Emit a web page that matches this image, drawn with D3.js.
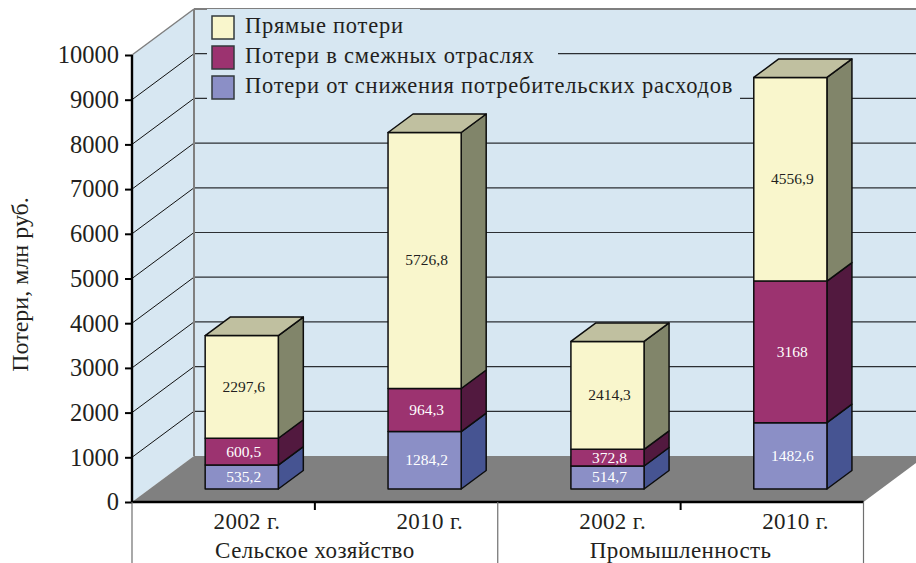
<!DOCTYPE html>
<html><head><meta charset="utf-8">
<script src="https://cdnjs.cloudflare.com/ajax/libs/d3/7.8.5/d3.min.js"></script>
<style>html,body{margin:0;padding:0;background:#fff;overflow:hidden}svg{display:block}text{font-family:"Liberation Serif",serif;fill:#231f20}</style>
</head><body><svg id="c" width="916" height="563"></svg>
<script>
const groups = ["Сельское хозяйство", "Промышленность"];
const years = ["2002 г.", "2010 г.", "2002 г.", "2010 г."];
const consumer = [535.2, 1284.2, 514.7, 1482.6];
const related = [600.5, 964.3, 372.8, 3168];
const direct = [2297.6, 5726.8, 2414.3, 4556.9];
const seriesNames = ["Прямые потери", "Потери в смежных отраслях", "Потери от снижения потребительских расходов"];
const yTicks = [0,1000,2000,3000,4000,5000,6000,7000,8000,9000,10000];
const yTitle = "Потери, млн руб.";

const W=916,H=563;
const svg=d3.select("#c");
const x0=132,x1=863.5,yB=502,yT=55,dX=62,dY=46;
const barDX=25,barDY=18.5,offX=18.3,offY=13;
const y=d3.scaleLinear().domain([0,10000]).range([yB,yT]);
const x=d3.scaleBand().domain(d3.range(4)).range([x0,x1]).paddingInner(0.6).paddingOuter(0.3);
const xFull=d3.scaleBand().domain(d3.range(4)).range([x0,x1]);
const pts=a=>a.map(p=>p.join(",")).join(" ");

// walls
svg.append("polygon").attr("points",pts([[x0,yT],[x0+dX,yT-dY],[x0+dX,yB-dY],[x0,yB]])).attr("fill","#d7e7f2");
svg.append("rect").attr("x",x0+dX).attr("y",yT-dY).attr("width",W-x0-dX).attr("height",yB-yT).attr("fill","#d7e7f2");
// gridlines
yTicks.filter(t=>t>0&&t<10000).forEach(t=>{
  svg.append("line").attr("x1",x0+dX).attr("x2",W).attr("y1",y(t)-dY).attr("y2",y(t)-dY).attr("stroke","#2b2f33").attr("stroke-width",1.2);
  svg.append("line").attr("x1",x0).attr("x2",x0+dX).attr("y1",y(t)).attr("y2",y(t)-dY).attr("stroke","#111").attr("stroke-width",1);
});
svg.append("line").attr("x1",x0).attr("x2",x0+dX).attr("y1",yT).attr("y2",yT-dY).attr("stroke","#7f7f7f").attr("stroke-width",1.5);
svg.append("line").attr("x1",x0+dX).attr("x2",W).attr("y1",yT-dY).attr("y2",yT-dY).attr("stroke","#7f7f7f").attr("stroke-width",2);
svg.append("line").attr("x1",x0+dX).attr("x2",x0+dX).attr("y1",yT-dY).attr("y2",yB-dY).attr("stroke","#7f7f7f").attr("stroke-width",2);
// floor
svg.append("polygon").attr("points",pts([[x0,yB],[x0+dX,yB-dY],[x1+dX,yB-dY],[x1,yB]])).attr("fill","#808080");

// legend
const legTop=[16,46,76], legCol=["#f9f6cc","#9c3370","#8b8fc6"], legEnd=[420,558,740];
seriesNames.forEach((n,i)=>{
  svg.append("rect").attr("x",207).attr("y",legTop[i]-7).attr("width",legEnd[i]-207).attr("height",30).attr("fill","#d7e7f2");
});
seriesNames.forEach((n,i)=>{
  svg.append("rect").attr("x",212).attr("y",legTop[i]).attr("width",22).attr("height",23).attr("fill",legCol[i]).attr("stroke","#333a3d").attr("stroke-width",1.5);
  svg.append("text").attr("x",245).attr("y",legTop[i]+17).attr("font-size",22.5).attr("letter-spacing",0.75).text(n);
});

// bars
const stack=[
 {v:consumer,front:"#8b8fc6",side:"#465492",label:"#fff"},
 {v:related,front:"#9c3370",side:"#52193f",label:"#fff"},
 {v:direct,front:"#f9f6cc",side:"#81856a",top:"#c0c0a0",label:"#231f20"}
];
const fmt=v=>String(v).replace(".",",");
d3.range(4).forEach(i=>{
  let acc=0;
  const bx0=x(i)+offX, bx1=bx0+x.bandwidth();
  stack.forEach(s=>{
    const a=y(acc)-offY, b=y(acc+s.v[i])-offY; acc+=s.v[i];
    const g=svg.append("g").attr("stroke","#0d0d0d").attr("stroke-width",1.5).attr("stroke-linejoin","round");
    g.append("polygon").attr("points",pts([[bx1,a],[bx1+barDX,a-barDY],[bx1+barDX,b-barDY],[bx1,b]])).attr("fill",s.side);
    g.append("rect").attr("x",bx0).attr("y",b).attr("width",bx1-bx0).attr("height",a-b).attr("fill",s.front);
    if(s.top) g.append("polygon").attr("points",pts([[bx0,b],[bx0+barDX,b-barDY],[bx1+barDX,b-barDY],[bx1,b]])).attr("fill",s.top);
    svg.append("text").attr("x",(bx0+bx1)/2+2).attr("y",(a+b)/2+5).attr("text-anchor","middle").attr("font-size",15.5).style("fill",s.label).text(fmt(s.v[i]));
  });
});

// axes
const ax=svg.append("g").attr("transform",`translate(${x0},0)`).call(d3.axisLeft(y).tickValues(yTicks).tickSize(7).tickPadding(6).tickFormat(d3.format("d")));
ax.selectAll("text").attr("font-size",24.5).style("font-family",'"Liberation Serif",serif').style("fill","#231f20");
ax.selectAll("line").attr("stroke","#000").attr("stroke-width",2);
ax.select(".domain").attr("stroke","#000").attr("stroke-width",2.4).attr("d",`M0,${yT}V${yB}`);
svg.append("line").attr("x1",x0-1).attr("x2",x1).attr("y1",yB).attr("y2",yB).attr("stroke","#000").attr("stroke-width",2.4);

// category axis
[0,1,2,3,4].forEach(i=>{
  const px=i<4?xFull(i):x1, long=i%2===0;
  svg.append("line").attr("x1",px).attr("x2",px).attr("y1",yB).attr("y2",long?H:yB+8)
    .attr("stroke",long?"#6f6f6f":"#000").attr("stroke-width",long?1.2:2);
});
years.forEach((t,i)=>svg.append("text").attr("x",xFull(i)+xFull.bandwidth()/2+23.5).attr("y",528.5).attr("text-anchor","middle").attr("font-size",23).attr("letter-spacing",0.35).text(t));
groups.forEach((t,i)=>svg.append("text").attr("x",xFull(i*2)+xFull.bandwidth()).attr("y",558).attr("text-anchor","middle").attr("font-size",23).attr("letter-spacing",0.4).text(t));

svg.append("text").attr("transform","translate(28,284.5) rotate(-90)").attr("text-anchor","middle").attr("font-size",24).text(yTitle);
</script></body></html>
